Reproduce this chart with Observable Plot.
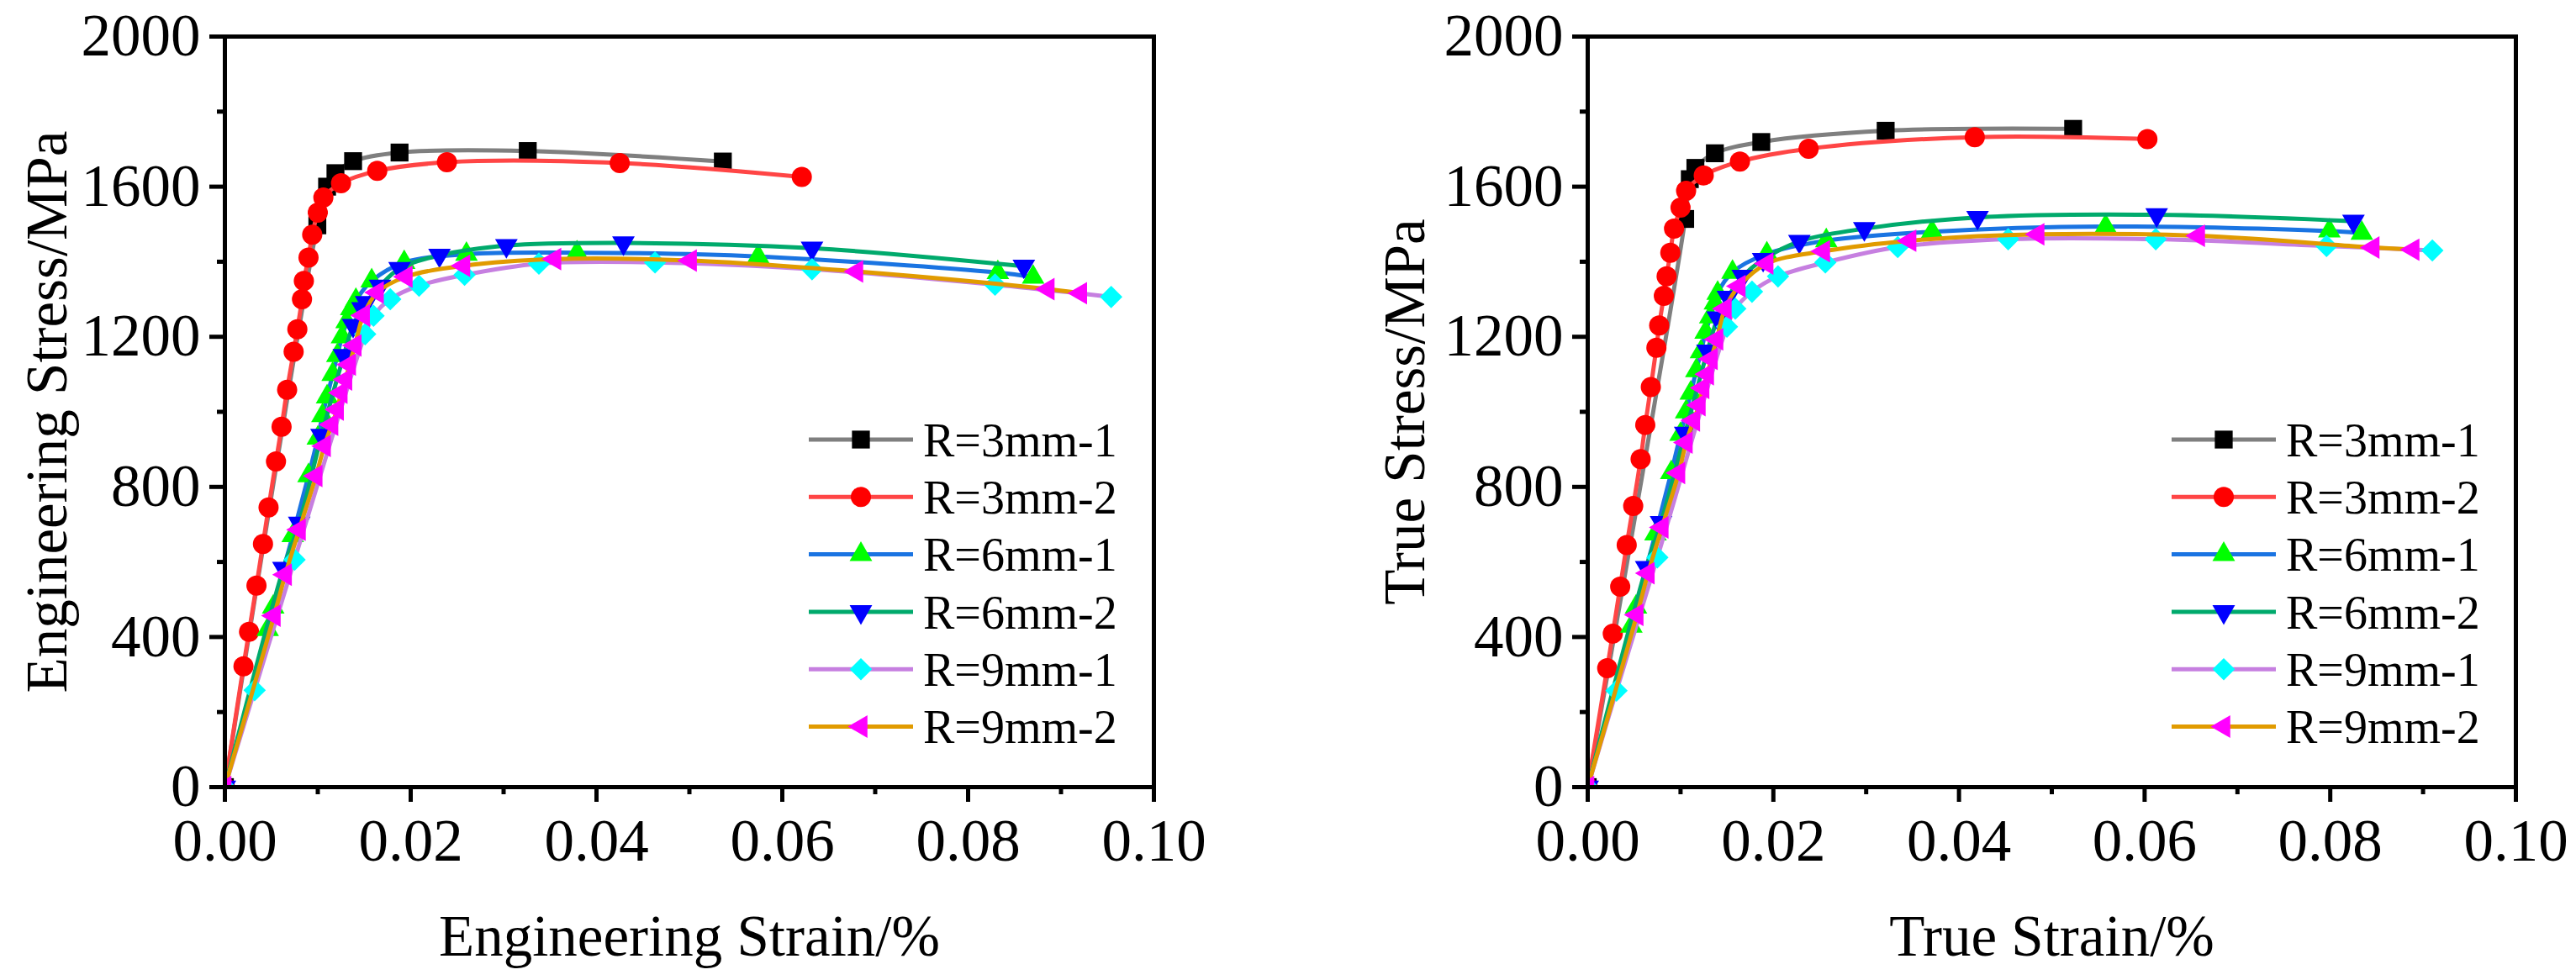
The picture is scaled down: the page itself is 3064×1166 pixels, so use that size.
<!DOCTYPE html>
<html>
<head>
<meta charset="utf-8">
<script src="https://cdn.jsdelivr.net/npm/d3@7"></script>
<script src="https://cdn.jsdelivr.net/npm/@observablehq/plot@0.6"></script>
<style>
  html, body { margin: 0; padding: 0; background: #ffffff; }
  #wrap { display: flex; width: 3064px; height: 1166px; }
  #wrap > div { width: 1532px; height: 1166px; }
</style>
</head>
<body>
<div id="wrap"><div id="left"></div><div id="right"></div></div>
<script>
// ---------- tick values ----------
const xTicks = [0, 0.02, 0.04, 0.06, 0.08, 0.10];
const xMinor = [0.01, 0.03, 0.05, 0.07, 0.09];
const yTicks = [0, 400, 800, 1200, 1600, 2000];
const yMinor = [200, 600, 1000, 1400, 1800];

// ---------- series ----------
const seriesNames = ["R=3mm-1", "R=3mm-2", "R=6mm-1", "R=6mm-2", "R=9mm-1", "R=9mm-2"];

// ---------- engineering (left panel) ----------
const engStrain3_1 = [0, 0.00995, 0.0110, 0.0119, 0.0138, 0.0188, 0.0326, 0.0536];
const engStress3_1 = [0, 1497, 1600, 1636, 1668, 1691, 1695, 1667];
const engStrain3_2 = [0, 0.0020, 0.0026, 0.0034, 0.0041, 0.0047, 0.0055, 0.0061, 0.0067, 0.0074, 0.0078, 0.0083, 0.0085, 0.0090, 0.0094, 0.0100, 0.0106, 0.0125, 0.0164, 0.0239, 0.0425, 0.0621];
const engStress3_2 = [0, 322, 414, 537, 648, 745, 868, 960, 1059, 1160, 1220, 1300, 1349, 1411, 1472, 1531, 1571, 1609, 1642, 1665, 1663, 1626];
const engStrain6_1 = [0, 0.0046, 0.0052, 0.0073, 0.0090, 0.0100, 0.0105, 0.0110, 0.0116, 0.0121, 0.0126, 0.0131, 0.0136, 0.0141, 0.0158, 0.0193, 0.0260, 0.0379, 0.0574, 0.0832, 0.0870];
const engStress6_1 = [0, 420, 480, 670, 830, 930, 990, 1040, 1100, 1150, 1200, 1240, 1275, 1297, 1349, 1398, 1420, 1424, 1414, 1371, 1359];
const engStrain6_2 = [0, 0.0063, 0.0080, 0.0104, 0.0128, 0.0138, 0.0148, 0.0152, 0.0167, 0.0188, 0.0231, 0.0303, 0.0429, 0.0632, 0.0860];
const engStress6_2 = [0, 583, 703, 937, 1150, 1230, 1275, 1291, 1335, 1382, 1417, 1443, 1450, 1436, 1388];
const engStrain9_1 = [0, 0.0032, 0.0075, 0.0151, 0.0160, 0.0178, 0.0209, 0.0258, 0.0338, 0.0463, 0.0632, 0.0829, 0.0954];
const engStress9_1 = [0, 258, 606, 1207, 1256, 1300, 1336, 1365, 1395, 1398, 1380, 1339, 1306];
const engStrain9_2 = [0, 0.0053, 0.0065, 0.0080, 0.0098, 0.0107, 0.0115, 0.0121, 0.0125, 0.0130, 0.0134, 0.0140, 0.0149, 0.0164, 0.0195, 0.0257, 0.0355, 0.0501, 0.0680, 0.0886, 0.0921];
const engStress9_2 = [0, 457, 566, 686, 829, 909, 966, 1006, 1051, 1086, 1126, 1177, 1257, 1318, 1360, 1389, 1407, 1403, 1374, 1327, 1316];

// ---------- true (right panel) ----------
const trueStrain3_1 = [0, 0.0105, 0.0110, 0.0116, 0.0137, 0.0187, 0.0321, 0.0523];
const trueStress3_1 = [0, 1514, 1620, 1650, 1689, 1719, 1749, 1754];
const trueStrain3_2 = [0, 0.0021, 0.0027, 0.0035, 0.0042, 0.0049, 0.0057, 0.0062, 0.0068, 0.0074, 0.0077, 0.0082, 0.0085, 0.0089, 0.0093, 0.0100, 0.0106, 0.0125, 0.0164, 0.0238, 0.0417, 0.0603];
const trueStress3_2 = [0, 317, 409, 534, 645, 749, 874, 965, 1066, 1171, 1230, 1309, 1361, 1424, 1488, 1544, 1589, 1630, 1667, 1701, 1732, 1727];
const trueStrain6_1 = [0, 0.0047, 0.0052, 0.0073, 0.0090, 0.0100, 0.0106, 0.0111, 0.0117, 0.0122, 0.0127, 0.0132, 0.0137, 0.0140, 0.0156, 0.0193, 0.0257, 0.0371, 0.0558, 0.0799, 0.0834];
const trueStress6_1 = [0, 429, 480, 675, 838, 940, 1000, 1050, 1110, 1160, 1212, 1253, 1290, 1316, 1372, 1421, 1456, 1480, 1494, 1482, 1476];
const trueStrain6_2 = [0, 0.0063, 0.0079, 0.0105, 0.0129, 0.0140, 0.0151, 0.0167, 0.0189, 0.0228, 0.0298, 0.0420, 0.0613, 0.0825];
const trueStress6_2 = [0, 585, 705, 943, 1162, 1250, 1305, 1361, 1406, 1454, 1488, 1518, 1525, 1508];
const trueStrain9_1 = [0, 0.0031, 0.0075, 0.0150, 0.0159, 0.0177, 0.0205, 0.0256, 0.0334, 0.0453, 0.0612, 0.0796, 0.0910];
const trueStress9_1 = [0, 257, 612, 1227, 1275, 1320, 1361, 1398, 1439, 1460, 1460, 1442, 1430];
const trueStrain9_2 = [0, 0.0053, 0.0065, 0.0080, 0.0098, 0.0106, 0.0114, 0.0120, 0.0124, 0.0129, 0.0133, 0.0139, 0.0148, 0.0163, 0.0193, 0.0254, 0.0347, 0.0485, 0.0658, 0.0846, 0.0889];
const trueStress9_2 = [0, 459, 570, 692, 837, 918, 977, 1018, 1064, 1100, 1141, 1193, 1275, 1335, 1395, 1428, 1456, 1473, 1469, 1438, 1432];

// ---------- styles ----------
const lineColors = ["#7f7f7f", "#ff4545", "#1a74e2", "#00aa6c", "#c67fe0", "#e19b00"];
const markerColors = ["#000000", "#ff0000", "#00ff00", "#0000ff", "#00ffff", "#ff00ff"];
const markerSymbols = ["square", "circle", "triangle", "triangle", "diamond2", "triangle"];
const markerRotate = [0, 0, 0, 180, 0, -90];
const markerR = [12, 12, 10, 10, 12, 10];
const d3Symbols = {square: d3.symbolSquare, circle: d3.symbolCircle, triangle: d3.symbolTriangle, diamond2: d3.symbolDiamond2};

const FONT = "'Liberation Serif', 'Times New Roman', serif";

function rows(strain, stress) {
  return strain.map((s, i) => ({strain: s, stress: stress[i]}));
}

const engSeries = [
  rows(engStrain3_1, engStress3_1), rows(engStrain3_2, engStress3_2),
  rows(engStrain6_1, engStress6_1), rows(engStrain6_2, engStress6_2),
  rows(engStrain9_1, engStress9_1), rows(engStrain9_2, engStress9_2)
];
const trueSeries = [
  rows(trueStrain3_1, trueStress3_1), rows(trueStrain3_2, trueStress3_2),
  rows(trueStrain6_1, trueStress6_1), rows(trueStrain6_2, trueStress6_2),
  rows(trueStrain9_1, trueStress9_1), rows(trueStrain9_2, trueStress9_2)
];

function panel(series, xLabel, yLabel, marginLeft, marginRight, yLabelOffset) {
  const marks = [];
  series.forEach((data, i) => {
    marks.push(Plot.line(data, {x: "strain", y: "stress", stroke: lineColors[i], strokeWidth: 5, curve: "catmull-rom", clip: true}));
    marks.push(Plot.dot(data, {x: "strain", y: "stress", symbol: markerSymbols[i], fill: markerColors[i], r: markerR[i], rotate: markerRotate[i], clip: true}));
  });
  marks.push(Plot.frame({stroke: "black", strokeWidth: 5}));
  // x axis: major ticks, minor ticks, tick labels
  marks.push(Plot.axisX({ticks: xTicks, tickSize: 18, strokeWidth: 5, text: null, label: null}));
  marks.push(Plot.axisX({ticks: xMinor, tickSize: 9, strokeWidth: 5, text: null, label: null}));
  marks.push(Plot.text(xTicks, {x: d => d, text: d3.format(".2f"), frameAnchor: "bottom", dy: 37, lineAnchor: "top", textAnchor: "middle", fontSize: 71, fill: "black"}));
  // y axis
  marks.push(Plot.axisY({ticks: yTicks, tickFormat: d3.format("d"), tickSize: 18, tickPadding: 11, strokeWidth: 5, fontSize: 71, label: null}));
  marks.push(Plot.axisY({ticks: yMinor, tickSize: 9, strokeWidth: 5, text: null, label: null}));
  // axis titles
  marks.push(Plot.text([xLabel], {text: d => d, frameAnchor: "bottom", dy: 151, lineAnchor: "top", textAnchor: "middle", fontSize: 69, fill: "black"}));
  marks.push(Plot.text([yLabel], {text: d => d, frameAnchor: "left", dx: -yLabelOffset, rotate: -90, lineAnchor: "top", textAnchor: "middle", fontSize: 69, fill: "black"}));

  const svg = Plot.plot({
    width: 1532, height: 1166,
    marginLeft, marginRight, marginTop: 43, marginBottom: 230,
    x: {domain: [0, 0.1]},
    y: {domain: [0, 2000]},
    style: {fontFamily: FONT, fontSize: "69px", color: "black", background: "white"},
    marks
  });

  // legend inside plot area
  const g = d3.select(svg).append("g")
    .attr("font-family", FONT).attr("font-size", 56).attr("text-anchor", "start");
  seriesNames.forEach((name, i) => {
    const yy = 523 + i * 68.3;
    const x0 = marginLeft + 695;
    g.append("line").attr("x1", x0).attr("x2", x0 + 124).attr("y1", yy).attr("y2", yy)
      .attr("stroke", lineColors[i]).attr("stroke-width", 5);
    g.append("path")
      .attr("d", d3.symbol().type(d3Symbols[markerSymbols[i]]).size(Math.PI * markerR[i] * markerR[i])())
      .attr("transform", `translate(${x0 + 62},${yy}) rotate(${markerRotate[i]})`)
      .attr("fill", markerColors[i]);
    g.append("text").attr("x", x0 + 136).attr("y", yy).attr("dy", "0.35em")
      .attr("text-anchor", "start").attr("fill", "black").text(name);
  });
  return svg;
}

document.getElementById("left").appendChild(panel(engSeries, "Engineering Strain/%", "Engineering Stress/MPa", 267, 160, 238));
document.getElementById("right").appendChild(panel(trueSeries, "True Strain/%", "True Stress/MPa", 356, 72, 244));
</script>
</body>
</html>
